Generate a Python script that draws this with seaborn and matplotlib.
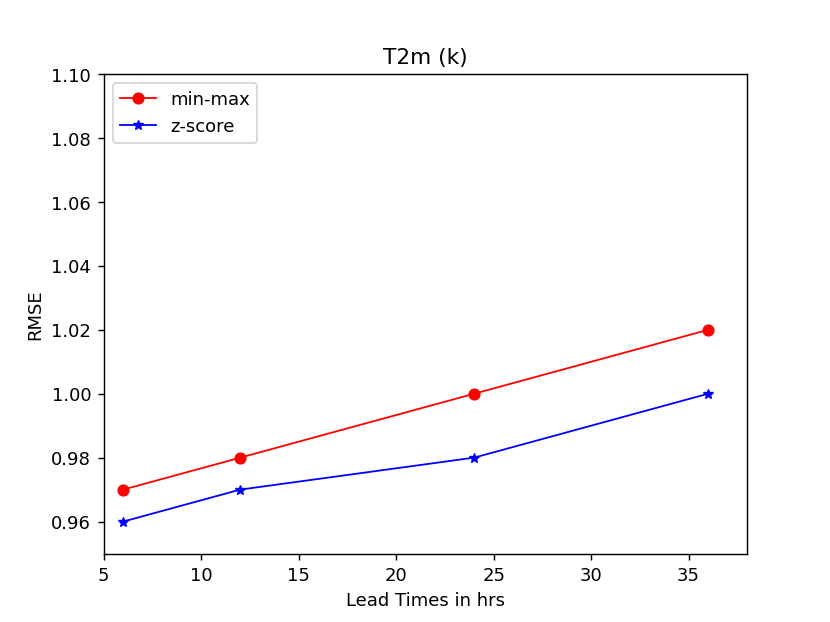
import matplotlib
matplotlib.use("Agg")
import matplotlib.pyplot as plt
import seaborn as sns

# Data
lead_times = [6, 12, 24, 36]
rmse_minmax = [0.97, 0.98, 1.00, 1.02]
rmse_zscore = [0.96, 0.97, 0.98, 1.00]

fig, ax = plt.subplots(figsize=(6.4, 4.8), dpi=129.7)

sns.lineplot(x=lead_times, y=rmse_minmax, ax=ax, color='red', marker='o',
             markersize=6, linewidth=1, markeredgecolor='red', label='min-max')
sns.lineplot(x=lead_times, y=rmse_zscore, ax=ax, color='blue', marker='*',
             markersize=6, linewidth=1, markeredgecolor='blue', label='z-score')

ax.set_xlim(5, 38)
ax.set_ylim(0.95, 1.10)
ax.set_title("T2m (k)")
ax.set_xlabel("Lead Times in hrs")
ax.set_ylabel("RMSE")
ax.legend(loc='upper left')

fig.savefig("out.png", dpi=129.7)
